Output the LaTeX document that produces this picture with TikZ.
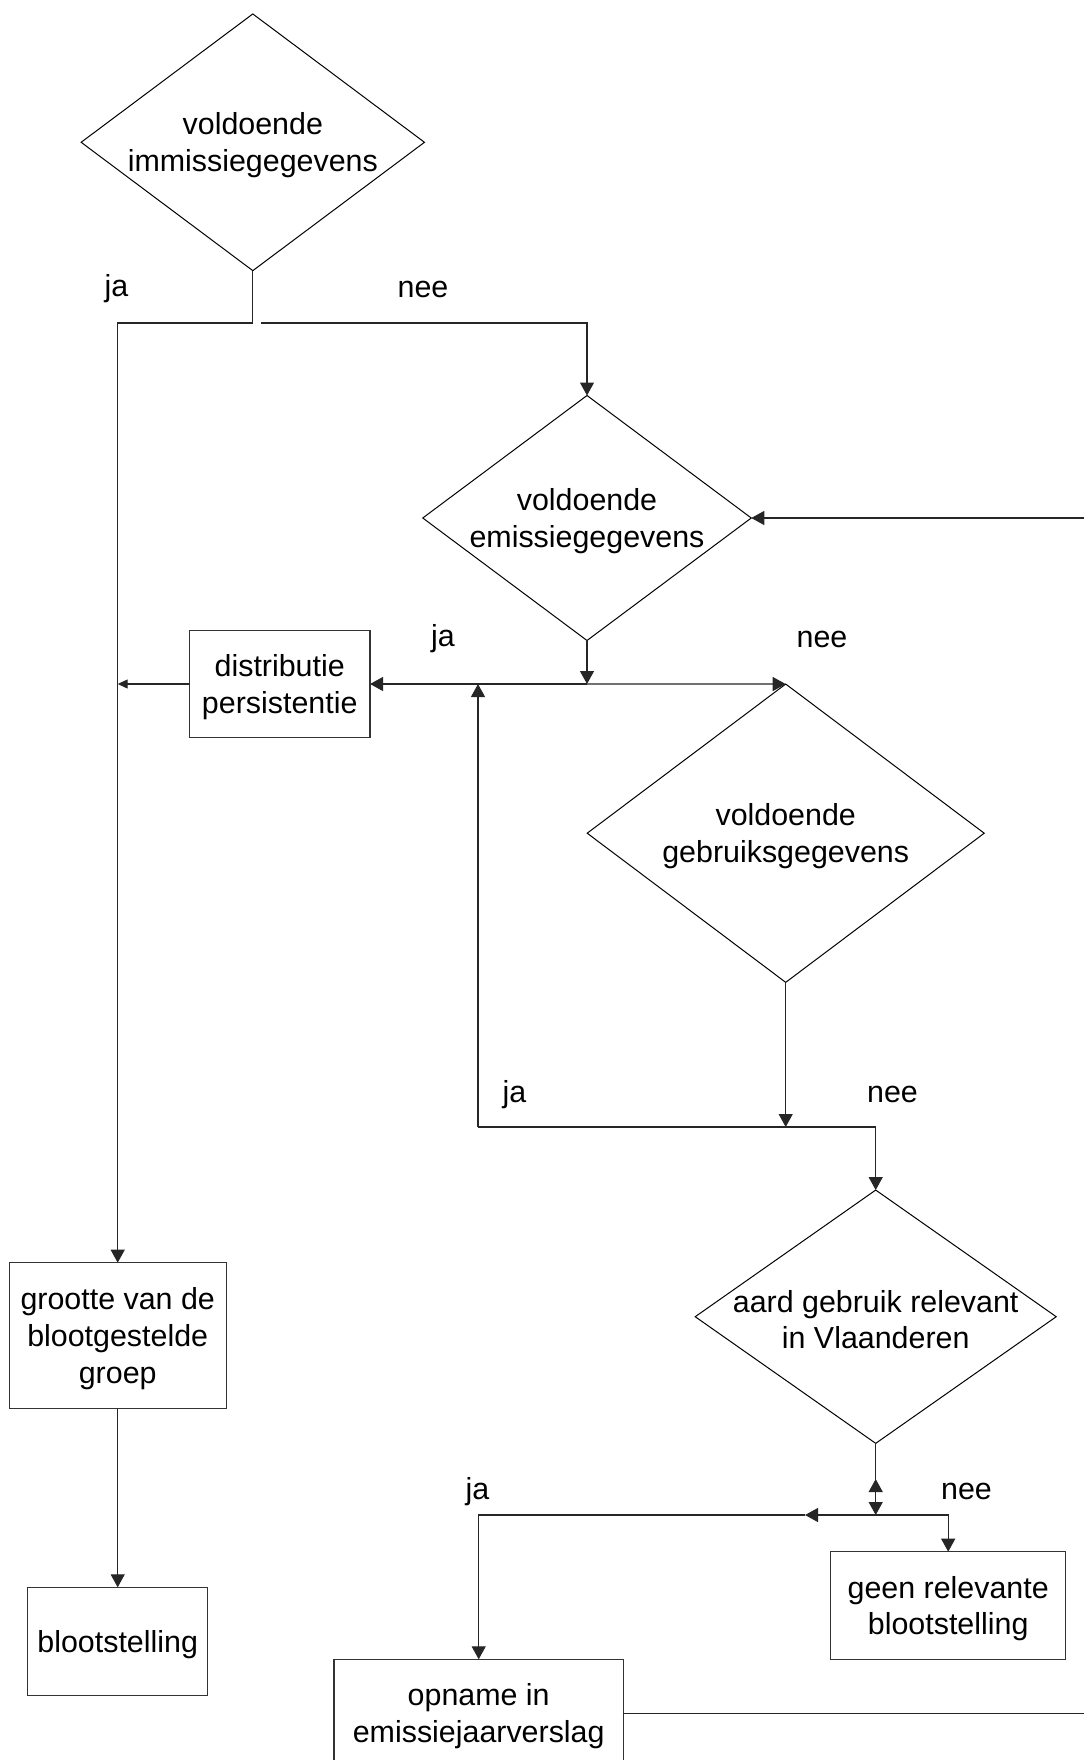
\documentclass[tikz,border=0pt]{standalone}
\usepackage{fontspec}
\setmainfont{Liberation Sans}
\usetikzlibrary{shapes.geometric,arrows.meta}
\tikzset{
  txt/.style={font=\fontsize{30.4pt}{36.6pt}\selectfont, align=center, inner sep=0pt, yshift=-3pt},
  lbl/.style={font=\fontsize{30.4pt}{36.6pt}\selectfont, inner sep=0pt, yshift=-1.5pt},
  dia/.style={draw=black, line width=1pt, shape=diamond, inner sep=0pt, outer sep=0pt},
  box/.style={draw=black!80, line width=1.2pt, rectangle, inner sep=0pt, outer sep=0pt},
  conn/.style={draw=black!85, line width=1.2pt},
  arr/.style={conn, -{Triangle[length=13pt,width=14pt]}},
  smallarr/.style={conn, -{Triangle[length=10pt,width=9pt]}},
  dbl/.style={conn, {Triangle[length=13pt,width=14pt]}-{Triangle[length=13pt,width=14pt]}}
}
\begin{document}
\begin{tikzpicture}[x=1pt,y=-1pt]
\clip (0,0) rectangle (1084,1760);
\fill[white] (0,0) rectangle (1084,1760);

% decision nodes
\node[dia, minimum width=343.3pt, minimum height=256.7pt] (d1) at (252.8,142.3) {};
\node[txt] (t1) at (d1.center) {voldoende\\immissiegegevens};
\node[dia, minimum width=328.5pt, minimum height=245pt] (d2) at (587,518) {};
\node[txt] (t2) at (d2.center) {voldoende\\emissiegegevens};
\node[dia, minimum width=397pt, minimum height=298.3pt] (d3) at (785.7,833.2) {};
\node[txt] (t3) at (d3.center) {voldoende\\gebruiksgegevens};
\node[dia, minimum width=361pt, minimum height=253.3pt] (d4) at (875.7,1316.7) {};
\node[txt] (t4) at (d4.center) {aard gebruik relevant\\in Vlaanderen};

% boxes
\node[box, minimum width=180.7pt, minimum height=107.7pt] (dist) at (279.7,684) {};
\node[txt] (tdist) at (dist.center) {distributie\\persistentie};
\node[box, minimum width=217pt, minimum height=146pt] (groot) at (117.7,1335.7) {};
\node[txt] (tgroot) at (groot.center) {grootte van de\\blootgestelde\\groep};
\node[box, minimum width=180.3pt, minimum height=108.4pt] (bloot) at (117.7,1641.5) {};
\node[txt] (tbloot) at (bloot.center) {blootstelling};
\node[box, minimum width=235pt, minimum height=107.6pt] (geen) at (948.2,1605.5) {};
\node[txt] (tgeen) at (geen.center) {geen relevante\\blootstelling};
\node[box, minimum width=289.3pt, minimum height=108pt] (opn) at (478.7,1713.3) {};
\node[txt] (topn) at (opn.center) {opname in\\emissiejaarverslag};

% labels
\node[lbl] (ja1) at (116.5,287.5) {ja};
\node[lbl] (nee1) at (423,287.5) {nee};
\node[lbl] (ja2) at (443,637) {ja};
\node[lbl] (nee2) at (822,638) {nee};
\node[lbl] (ja3) at (514.5,1093) {ja};
\node[lbl] (nee3) at (892.5,1093) {nee};
\node[lbl] (ja4) at (477.5,1490) {ja};
\node[lbl] (nee4) at (966.5,1490) {nee};

% junction coordinates
\coordinate (j1) at (252.8,323);
\coordinate (j1b) at (261,323);
\coordinate (inE) at (1084,518);
\coordinate (j2) at (587,684);
\coordinate (j3) at (117.7,684);
\coordinate (j4) at (478,1127);
\coordinate (j5) at (478,684);
\coordinate (j7) at (785.7,1127);
\coordinate (j8) at (875.7,1515);
\coordinate (j9) at (875.7,1479);
\coordinate (j10) at (805,1515);
\coordinate (j11) at (478.7,1515);
\coordinate (outE) at (1084,1713.3);

% connectors
\draw[arr] (d1.south) -- (j1) -| (groot.north);
\draw[arr] (j1b) -| (d2.north);
\draw[arr] (inE) -- (d2.east);
\draw[arr] (d2.south) -- (j2);
\draw[arr] (j2) -- (dist.east);
\draw[arr] (j2) -- (d3.north);
\draw[smallarr] (dist.west) -- (j3);
\draw[arr] (j4) -- (j5);
\draw[arr] (d3.south) -- (j7);
\draw[arr] (j4) -| (d4.north);
\draw[conn] (d4.south) -- (j8);
\draw[dbl] (j9) -- (j8);
\draw[arr] (j8) -- (j10);
\draw[arr] (j10) -- (j11) -- (opn.north);
\draw[arr] (j8) -| (geen.north);
\draw[conn] (opn.east) -- (outE);
\draw[arr] (groot.south) -- (bloot.north);
\end{tikzpicture}
\end{document}
